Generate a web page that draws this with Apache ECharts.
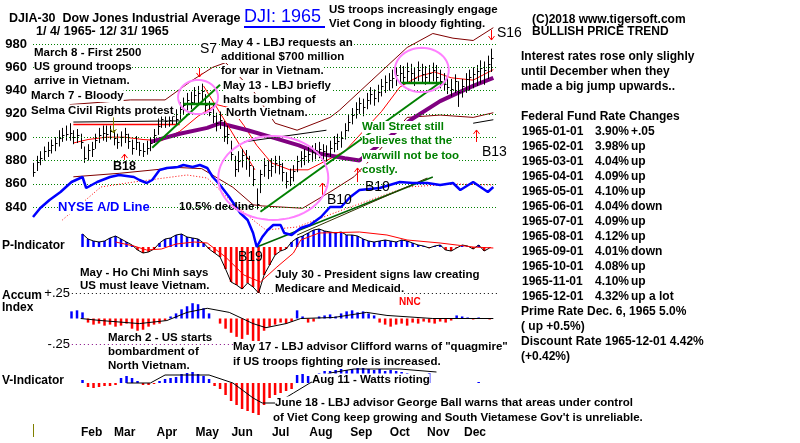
<!DOCTYPE html>
<html><head><meta charset="utf-8">
<script src="https://cdn.jsdelivr.net/npm/echarts@6/dist/echarts.min.js"></script>
<style>html,body{margin:0;padding:0;background:#fff}#c{width:800px;height:443px}</style>
</head><body><div id="c"></div>
<script>
// ---------------- DATA ----------------
const monthNames = ['Feb','Mar','Apr','May','Jun','Jul','Aug','Sep','Oct','Nov','Dec'];
const monthLabelDays = [32,50,73,95,114,135,157,179,200,221,241];   // trading-day index (Jan 4 = 0)
const priceTicks = [840,860,880,900,920,940,960,980];

// DJIA daily bars, sampled every 2 trading days starting Jan 4 1965
const barStartDay = 0, barStepDays = 2;
const priceHigh = [
878,884,888,892,896,898,900,906,908,910,
912,906,907,903,892,894,896,903,908,910,
910,910,906,903,905,908,903,898,901,896,
895,897,900,907,916,921,920,922,924,924,
930,934,938,939,943,944,946,937,931,928,
921,922,914,910,897,884,888,890,889,884,
875,856,872,882,880,882,884,884,878,870,
873,876,884,888,890,892,893,895,896,894,
893,897,901,903,905,912,919,925,930,934,
933,938,943,941,945,950,953,955,958,960,
962,961,964,963,960,965,963,961,962,964,
962,958,955,952,950,954,948,950,955,958,
960,962,966,965,970,976];
const priceLow = [
866,871,876,880,883,886,888,892,896,897,
897,894,895,890,878,880,883,890,895,897,
896,898,893,890,892,895,890,885,889,884,
883,885,888,895,902,908,908,909,911,910,
915,920,923,924,928,929,930,922,918,912,
905,907,896,894,880,866,870,874,872,866,
858,838,852,866,864,866,869,868,862,856,
858,862,870,874,876,878,879,881,882,880,
879,883,887,889,891,898,905,911,916,920,
918,924,928,927,930,935,938,940,942,944,
946,945,947,946,944,948,947,945,947,948,
946,942,940,937,935,938,926,934,938,940,
942,944,946,945,950,956];
const priceClose = [
870,879,882,888,889,893,895,899,902,903,
904,900,902,896,882,889,890,898,902,904,
903,905,899,896,900,903,897,891,896,889,
888,891,895,902,910,916,914,915,918,916,
924,928,932,930,936,938,940,928,922,918,
912,915,901,903,886,873,880,885,882,876,
864,843,868,876,872,875,878,877,870,862,
866,871,880,882,884,886,887,889,890,888,
886,891,895,897,899,906,913,919,924,929,
926,932,937,934,939,944,947,949,951,953,
955,952,957,955,951,958,954,952,955,958,
952,948,946,943,941,948,939,944,950,952,
954,957,959,958,963,968];

// 21-day moving average (red) and bands (maroon)
const ma21Days = [22,30,40,50,60,70,80,90,100,108,115,122,130,140,150,160,170,180,190,200,210,219,228,240,251];
const ma21Vals = [895,898,900,900,898,897,905,918,928,925,910,893,878,872,872,880,888,905,922,943,952,956,951,949,958];
const upperDays = [20,37,53,72,87,98,105,120,132,144,162,167,204,218,229,240,251];
const upperVals = [928,930,932,932,949,960,964,940,912,906,917,923,977,989,985,983,994];
const lowerDays = [22,47,79,92,109,120,125,147,162,175,189,204,222,240,251];
const lowerVals = [866,869,874,873,857,842,841,839,853,866,889,917,919,917,921];
// long moving average (purple)
const longMaDays = [64,80,95,102,117,130,145,156,170,178,206,222,240,251];
const longMaVals = [896,903,908,912,906,900,893,886,882,880,915,931,944,951];

// trend lines [day, price]
const greenUp1 = [[65,891],[102,945]];
const greenFlat1 = [[82,928.5],[100,928.5]];
const greenUp2 = [[124,836],[222,947]];
const greenFlat2 = [[200,946.5],[225,946.5]];
const redDown1 = [[93,944],[121,872]];
const blackFlat1 = [[22,913],[80,914]];
const redFlat1 = [[22,911],[80,911]];
const blackFlat2 = [[115,896],[160,906]];
const blackShort = [[240,912],[251,915]];

// NYSE A/D line (relative units)
const adDays = [0,4,9,15,21,27,29,35,42,47,55,58,62,65,69,73,79,82,87,91,95,98,102,107,113,117,120,122,125,128,131,135,137,141,146,151,157,162,168,173,178,189,200,207,215,222,229,233,240,248,251];
const adVals = [60,69,77,85,95,100,89,95,100,102,100,97,94,97,107,109,110,112,110,112,109,100,92,80,64,57,44,30,40,47,52,52,44,42,49,52,60,70,70,80,87,89,95,94,94,92,94,87,95,85,90];
const adMaDays = [16,37,55,84,95,109,120,127,144,170,204,230,251];
const adMaVals = [57,90,95,102,99,74,57,47,50,68,90,93,92];
const adTrend1 = [[122,30],[218,100]];
const adTrend2 = [[144,42],[215,99]];

// indicators, sampled every 3 trading days
const indStep = 3;
const pIndStart = 27;
const pInd = [13,8,6,5,6,9,11,8,5,2, -3,-6,-5,-2,4,8,9,12,13,10, 9,8,4,-2,-6,-10,-22,-35,-38,-42,
  -36,-40,-46,-28,-18,-8,-4,-2,5,9, 11,14,17,18,16,15,14,15,12,12, 11,8,6,5,6,7,6,5,7,6,
  4,2,1,-1,1,2,-3,-4,-1,2, 1,-2,2,-4,-1];
const pMaDays = [45,55,62,70,78,88,95,105,115,124,133,142,146,156,178,193,204,222,240,251];
const pMaVals = [5,1,-3,-2,3,5,4,-10,-28,-35,-20,-6,7,14,15,12,7,4,0,-1];

const accStart = 21;
const accum = [0.07,0.08,0.06,-0.04,-0.06,-0.05,-0.07,-0.06,-0.08,-0.07,
  -0.05,-0.10,-0.12,-0.11,-0.08,-0.06,-0.05,-0.02,0.02,0.05,
  0.09,0.12,0.15,0.14,0.10,0.05,0.00,-0.05,-0.10,-0.14,
  -0.18,-0.20,-0.16,-0.22,-0.25,-0.12,-0.08,-0.06,-0.04,-0.05,
  -0.03,0.08,0.02,-0.04,-0.03,0.02,0.03,0.04,0.02,0.05,
  0.07,0.08,0.06,0.07,0.05,0.03,-0.04,-0.06,-0.08,-0.06,
  -0.05,-0.07,-0.04,-0.05,-0.03,-0.04,-0.05,-0.03,-0.04,-0.02,
  0.03,0.02,0.01,-0.01,0.01,0.00,-0.01];
const accMaDays = [26,37,58,73,84,95,107,120,127,138,146,164,182,193,218,251];
const accMaVals = [0,-0.02,-0.05,-0.02,0.06,0.10,0.06,-0.05,-0.09,-0.05,0,0.01,0.06,0.03,0,0];

const vIndStart = 27;
const vInd = [3,-4,-5,-4,-3,-3,-2,5,7,5, 2,-2,-2,-1,2,4,5,6,9,10, 11,9,7,4,-3,-6,-12,-18,-22,-26,
  -28,-30,-32,-22,-15,-12,-10,-8,-6,8, 9,7,9,10,12,12,13,14,13,14, 15,15,14,13,14,12,13,12,11,10,
  8,9,8,10,0,0,0,0,0,0, 0,0,1,0,0];
const vMaDays = [51,64,72,96,109,120,125,133,142,151,162,175,200,220];
const vMaVals = [0,0,8,8,0,-15,-20,-20,-10,0,10,14,14,11];

// annotation marks in data space
const circles = [[90,934.5,10.9,14.6],[131,865,30,36],[212,957.7,14.7,19]]; // day, price, day-radius, price-radius
const arrows = [[157.6,850.4,860.7,0],[176.7,861.5,873.6,0],[241.5,895.9,906.2,0],[49.6,880.5,885.5,0],
  [250,992,983.4,0],[90.5,959.4,951.7,0],[43.6,917,903.6,1]]; // day, tail, tip, color

const fedDates = ['1965-01-01','1965-02-01','1965-03-01','1965-04-01','1965-05-01','1965-06-01','1965-07-01','1965-08-01','1965-09-01','1965-10-01','1965-11-01','1965-12-01'];
const fedRates = ['3.90%','3.98%','4.04%','4.09%','4.10%','4.04%','4.09%','4.12%','4.01%','4.08%','4.10%','4.32%'];
const fedChanges = ['+.05','up','up','up','up','down','up','up','down','up','up','up a lot'];

// ---------------- BUILD ----------------
const SANS = '"Liberation Sans", Arial, sans-serif';
const NARROW = '"Liberation Sans Narrow", "Arial Narrow", "Liberation Sans", sans-serif';
const zip = (ds, vs) => ds.map((d, i) => [d, vs[i]]);
const seqDays = (start, n) => Array.from({length: n}, (_, i) => start + i * indStep);
const barData = priceHigh.map((h, i) => [barStartDay + i * barStepDays, priceLow[i], h, priceClose[i]]);
const pData = zip(seqDays(pIndStart, pInd.length), pInd);
const aData = zip(seqDays(accStart, accum.length), accum);
const vData = zip(seqDays(vIndStart, vInd.length), vInd);

function lineS(data, xi, yi, color, width, extra) {
  return Object.assign({type: 'line', xAxisIndex: xi, yAxisIndex: yi, data: data, symbol: 'none', showSymbol: false,
    silent: true, animation: false, lineStyle: {color: color, width: width}, z: 3}, extra || {});
}
function barS(data, xi, yi) {
  return {type: 'bar', xAxisIndex: xi, yAxisIndex: yi, data: data, barWidth: 2.5, silent: true, animation: false,
    itemStyle: {color: p => (p.value[1] >= 0 ? '#0000ff' : '#ff0000')}, z: 2};
}
function renderHLC(params, api) {
  const d = api.value(0);
  const lo = api.coord([d, api.value(1)]);
  const hi = api.coord([d, api.value(2)]);
  const cl = api.coord([d, api.value(3)]);
  const x = Math.round(lo[0]) + 0.5;
  const cy = Math.round(cl[1]) + 0.5;
  return {type: 'group', children: [
    {type: 'line', shape: {x1: x, y1: lo[1], x2: x, y2: hi[1]}, style: {stroke: '#000', lineWidth: 1}},
    {type: 'line', shape: {x1: x, y1: cy, x2: x + 2, y2: cy}, style: {stroke: '#000', lineWidth: 1}}
  ]};
}
function renderEllipse(params, api) {
  const c = api.coord([api.value(0), api.value(1)]);
  const s = api.size([api.value(2), api.value(3)]);
  const pts = [];
  for (let k = 0; k < 64; k++) { const t = k / 64 * Math.PI * 2; pts.push([c[0] + s[0] * Math.cos(t), c[1] + s[1] * Math.sin(t)]); }
  return {type: 'polygon', shape: {points: pts}, style: {stroke: '#ff80ff', fill: 'none', lineWidth: 2}};
}
function renderArrow(params, api) {
  const a = api.coord([api.value(0), api.value(1)]);
  const b = api.coord([api.value(0), api.value(2)]);
  const dir = b[1] < a[1] ? -1 : 1;
  const x = Math.round(a[0]) + 0.5;
  const col = api.value(3) === 1 ? '#808000' : '#ff0000';
  return {type: 'group', children: [
    {type: 'line', shape: {x1: x, y1: a[1], x2: x, y2: b[1]}, style: {stroke: col, lineWidth: 1}},
    {type: 'polyline', shape: {points: [[x - 3, b[1] - dir * 4], [x, b[1]], [x + 3, b[1] - dir * 4]]}, style: {stroke: col, lineWidth: 1, fill: 'none'}}
  ]};
}

const GL = 33, GW = 464;
const grids = [
  {left: GL, width: GW, top: 20.7, height: 256.3},
  {left: GL, width: GW, top: 197, height: 100},
  {left: GL, width: GW, top: 267.5, height: 102},
  {left: GL, width: GW, top: 333, height: 100}
];
const xAxes = [0, 1, 2, 3].map(i => ({type: 'value', gridIndex: i, min: 0, max: 253, show: i === 3,
  interval: 1, axisLine: {show: false}, axisTick: {show: false}, splitLine: {show: false},
  axisLabel: {show: i === 3, margin: -6, color: '#000', fontWeight: 'bold', fontSize: 12, fontFamily: SANS,
    formatter: v => { const k = monthLabelDays.indexOf(v); return k >= 0 ? monthNames[k] : ''; }}}));
const yAxes = [
  {type: 'value', gridIndex: 0, min: 780, max: 1000, interval: 20, axisLine: {show: false}, axisTick: {show: false}, splitLine: {show: false},
    axisLabel: {margin: 6, color: '#000', fontWeight: 'bold', fontSize: 13, fontFamily: SANS,
      formatter: v => (priceTicks.indexOf(v) >= 0 ? String(v) : '')}},
  {type: 'value', gridIndex: 0, min: 0, max: 256.3, show: false},
  {type: 'value', gridIndex: 1, min: -50, max: 50, show: false},
  {type: 'value', gridIndex: 2, min: -0.5, max: 0.5, interval: 0.25, axisLine: {show: false}, axisTick: {show: false}, splitLine: {show: false},
    axisLabel: {margin: -37, color: '#000', fontSize: 13, fontFamily: SANS,
      formatter: v => (Math.abs(v - 0.25) < 1e-6 ? '+.25' : (Math.abs(v + 0.25) < 1e-6 ? '-.25' : ''))}},
  {type: 'value', gridIndex: 3, min: -50, max: 50, show: false}
];

const series = [
  {type: 'custom', xAxisIndex: 0, yAxisIndex: 0, data: barData, renderItem: renderHLC, encode: {x: 0, y: [1, 2, 3]}, silent: true, animation: false, z: 4},
  lineS(zip(ma21Days, ma21Vals), 0, 0, '#ff0000', 1, {
    markLine: {silent: true, symbol: 'none', animation: false, label: {show: false},
      lineStyle: {color: '#008000', type: [1, 2], width: 1}, data: priceTicks.map(v => ({yAxis: v}))}}),
  lineS(zip(upperDays, upperVals), 0, 0, '#800000', 1),
  lineS(zip(lowerDays, lowerVals), 0, 0, '#800000', 1),
  lineS(zip(longMaDays, longMaVals), 0, 0, '#800080', 4, {z: 3}),
  lineS(greenUp1, 0, 0, '#008000', 2, {z: 5}),
  lineS(greenFlat1, 0, 0, '#008000', 2.5, {z: 5}),
  lineS(greenUp2, 0, 0, '#008000', 2, {z: 5}),
  lineS(greenFlat2, 0, 0, '#008000', 2.5, {z: 5}),
  lineS(redDown1, 0, 0, '#ff0000', 1),
  lineS(blackFlat1, 0, 0, '#000000', 1),
  lineS(redFlat1, 0, 0, '#ff0000', 1.5),
  lineS(blackFlat2, 0, 0, '#000000', 1),
  lineS(blackShort, 0, 0, '#000000', 1),
  lineS(zip(adMaDays, adMaVals), 0, 1, '#ff0000', 1, {lineStyle: {color: '#ff0000', width: 1, type: [1, 2]}}),
  lineS(adTrend1, 0, 1, '#006400', 1.5),
  lineS(adTrend2, 0, 1, '#333300', 1),
  lineS(zip(adDays, adVals), 0, 1, '#0000ff', 2.5, {z: 6}),
  barS(pData, 1, 2),
  lineS(pData, 1, 2, '#000000', 1),
  lineS(zip(pMaDays, pMaVals), 1, 2, '#ff0000', 1),
  Object.assign(barS(aData, 2, 3), {markLine: {silent: true, symbol: 'none', animation: false, label: {show: false},
    data: [
      [{coord: [19, 0.25], lineStyle: {color: '#000', type: [1, 3], width: 1}}, {coord: [253, 0.25]}],
      [{coord: [19, -0.25], lineStyle: {color: '#800080', type: [1, 3], width: 1}}, {coord: [253, -0.25]}]
    ]}}),
  lineS(zip(accMaDays, accMaVals), 2, 3, '#000000', 1),
  barS(vData, 3, 4),
  lineS(zip(vMaDays, vMaVals), 3, 4, '#000000', 1),
  {type: 'custom', xAxisIndex: 0, yAxisIndex: 0, data: circles, renderItem: renderEllipse, silent: true, animation: false, z: 120},
  {type: 'custom', xAxisIndex: 0, yAxisIndex: 0, data: arrows, renderItem: renderArrow, silent: true, animation: false, z: 110}
];

// ---------------- TEXT ----------------
const texts = [];
function T(text, x, y, o) {
  o = o || {};
  texts.push({type: 'text', x: x, y: y, z: o.z || 100, silent: true,
    style: {text: text, fill: o.c || '#000', fontSize: o.s || 11.5, fontWeight: o.w || 'bold', fontFamily: o.f || SANS,
      verticalAlign: 'middle', align: 'left', backgroundColor: o.bg ? '#fff' : null}});
}
const BG = {bg: true};
T('DJIA-30  Dow Jones Industrial Average', 9, 19, {s: 12.5});
T('1/ 4/ 1965- 12/ 31/ 1965', 36, 32, {s: 12.5});
T('DJI: 1965', 244, 17, {s: 18, w: 'normal', c: '#0000ff'});
T('US troops increasingly engage', 329, 10, BG);
T('Viet Cong in bloody fighting.', 329, 24, BG);
T('(C)2018 www.tigersoft.com', 532, 20, {f: NARROW, s: 12});
T('BULLISH PRICE TREND', 532, 32, {f: NARROW, s: 12});
T('S16', 497, 33, {s: 14, w: 'normal'});
T('Interest rates rose only slighly', 521, 57, {f: NARROW, s: 12});
T('until December when they', 521, 72, {f: NARROW, s: 12});
T('made a big jump upwards..', 521, 87, {f: NARROW, s: 12});
T('Federal Fund Rate Changes', 521, 117, {f: NARROW, s: 12});
fedDates.forEach((d, i) => {
  T(d, 522, 132 + 15 * i, {f: NARROW, s: 12});
  T(fedRates[i], 595, 132 + 15 * i, {f: NARROW, s: 12});
  T(fedChanges[i], 631, 132 + 15 * i, {f: NARROW, s: 12});
});
T('Prime Rate Dec. 6, 1965 5.0%', 521, 312, {f: NARROW, s: 12});
T('( up +0.5%)', 521, 327, {f: NARROW, s: 12});
T('Discount Rate 1965-12-01 4.42%', 521, 342, {f: NARROW, s: 12});
T('(+0.42%)', 521, 357, {f: NARROW, s: 12});

T('March 8 - First 2500', 34, 52.5, BG);
T('US ground troops', 34, 67, BG);
T('arrive in Vietnam.', 34, 81, BG);
T('March 7 - Bloody', 31, 96, BG);
T('Selma Civil Rights protest', 31, 110.5, BG);
T('S7', 200, 49, {s: 14, w: 'normal', bg: true});
T('May 4 - LBJ requests an', 221, 42.5, BG);
T('additional $700 million', 221, 57, BG);
T('for war in Vietnam.', 221, 71, BG);
T('May 13 - LBJ briefly', 223, 86, BG);
T('halts bombing of', 223, 99.5, BG);
T('North Vietnam.', 226, 113, BG);
T('B18', 113, 167, {s: 12.5});
T('NYSE A/D Line', 58, 207.5, {s: 13, c: '#0000ff', bg: true});
T('10.5% decline', 179, 207, {s: 11.5});
T('B10', 327, 200, {s: 14, w: 'normal'});
T('B10', 365, 187, {s: 14, w: 'normal'});
T('B13', 482, 152, {s: 14, w: 'normal'});
T('Wall Street still', 362, 127, {c: '#008000', bg: true});
T('believes that the', 362, 141, {c: '#008000', bg: true});
T('warwill not be too', 362, 156, {c: '#008000', bg: true});
T('costly.', 362, 169.5, {c: '#008000', bg: true});
T('B19', 238, 257, {s: 14, w: 'normal'});
T('P-Indicator', 2, 246, {s: 12});
T('May - Ho Chi Minh says', 80, 272.5, BG);
T('US must leave Vietnam.', 80, 286, BG);
T('July 30 - President signs law creating', 275, 275, BG);
T('Medicare and Medicaid.', 275, 289, BG);
T('Accum', 2, 296, {s: 12});
T('Index', 2, 307.5, {s: 12});
T('NNC', 399, 302, {s: 10, c: '#ff0000'});
T('March 2 - US starts', 108, 337.5, BG);
T('bombardment of', 108, 352, BG);
T('North Vietnam.', 108, 366, BG);
T('May 17 - LBJ advisor Clifford warns of "quagmire"', 233, 347, BG);
T('if US troops fighting role is increased.', 233, 362, BG);
T('V-Indicator', 2, 381, {s: 12});
T('Aug 11 - Watts rioting', 312, 379.5, BG);
T('June 18 - LBJ advisor George Ball warns that areas under control', 275, 402.5, BG);
T("of Viet Cong keep growing and South Vietamese Gov't is unreliable.", 273, 417.5, BG);
texts.push({type: 'rect', z: 100, shape: {x: 244, y: 26, width: 81, height: 2}, style: {fill: '#0000ff'}});
texts.push({type: 'line', z: 100, shape: {x1: 33.5, y1: 424, x2: 33.5, y2: 437}, style: {stroke: '#808000', lineWidth: 1}});

const chart = echarts.init(document.getElementById('c'));
chart.setOption({
  animation: false,
  backgroundColor: '#fff',
  textStyle: {fontFamily: SANS},
  grid: grids, xAxis: xAxes, yAxis: yAxes, series: series, graphic: texts
});
</script></body></html>
